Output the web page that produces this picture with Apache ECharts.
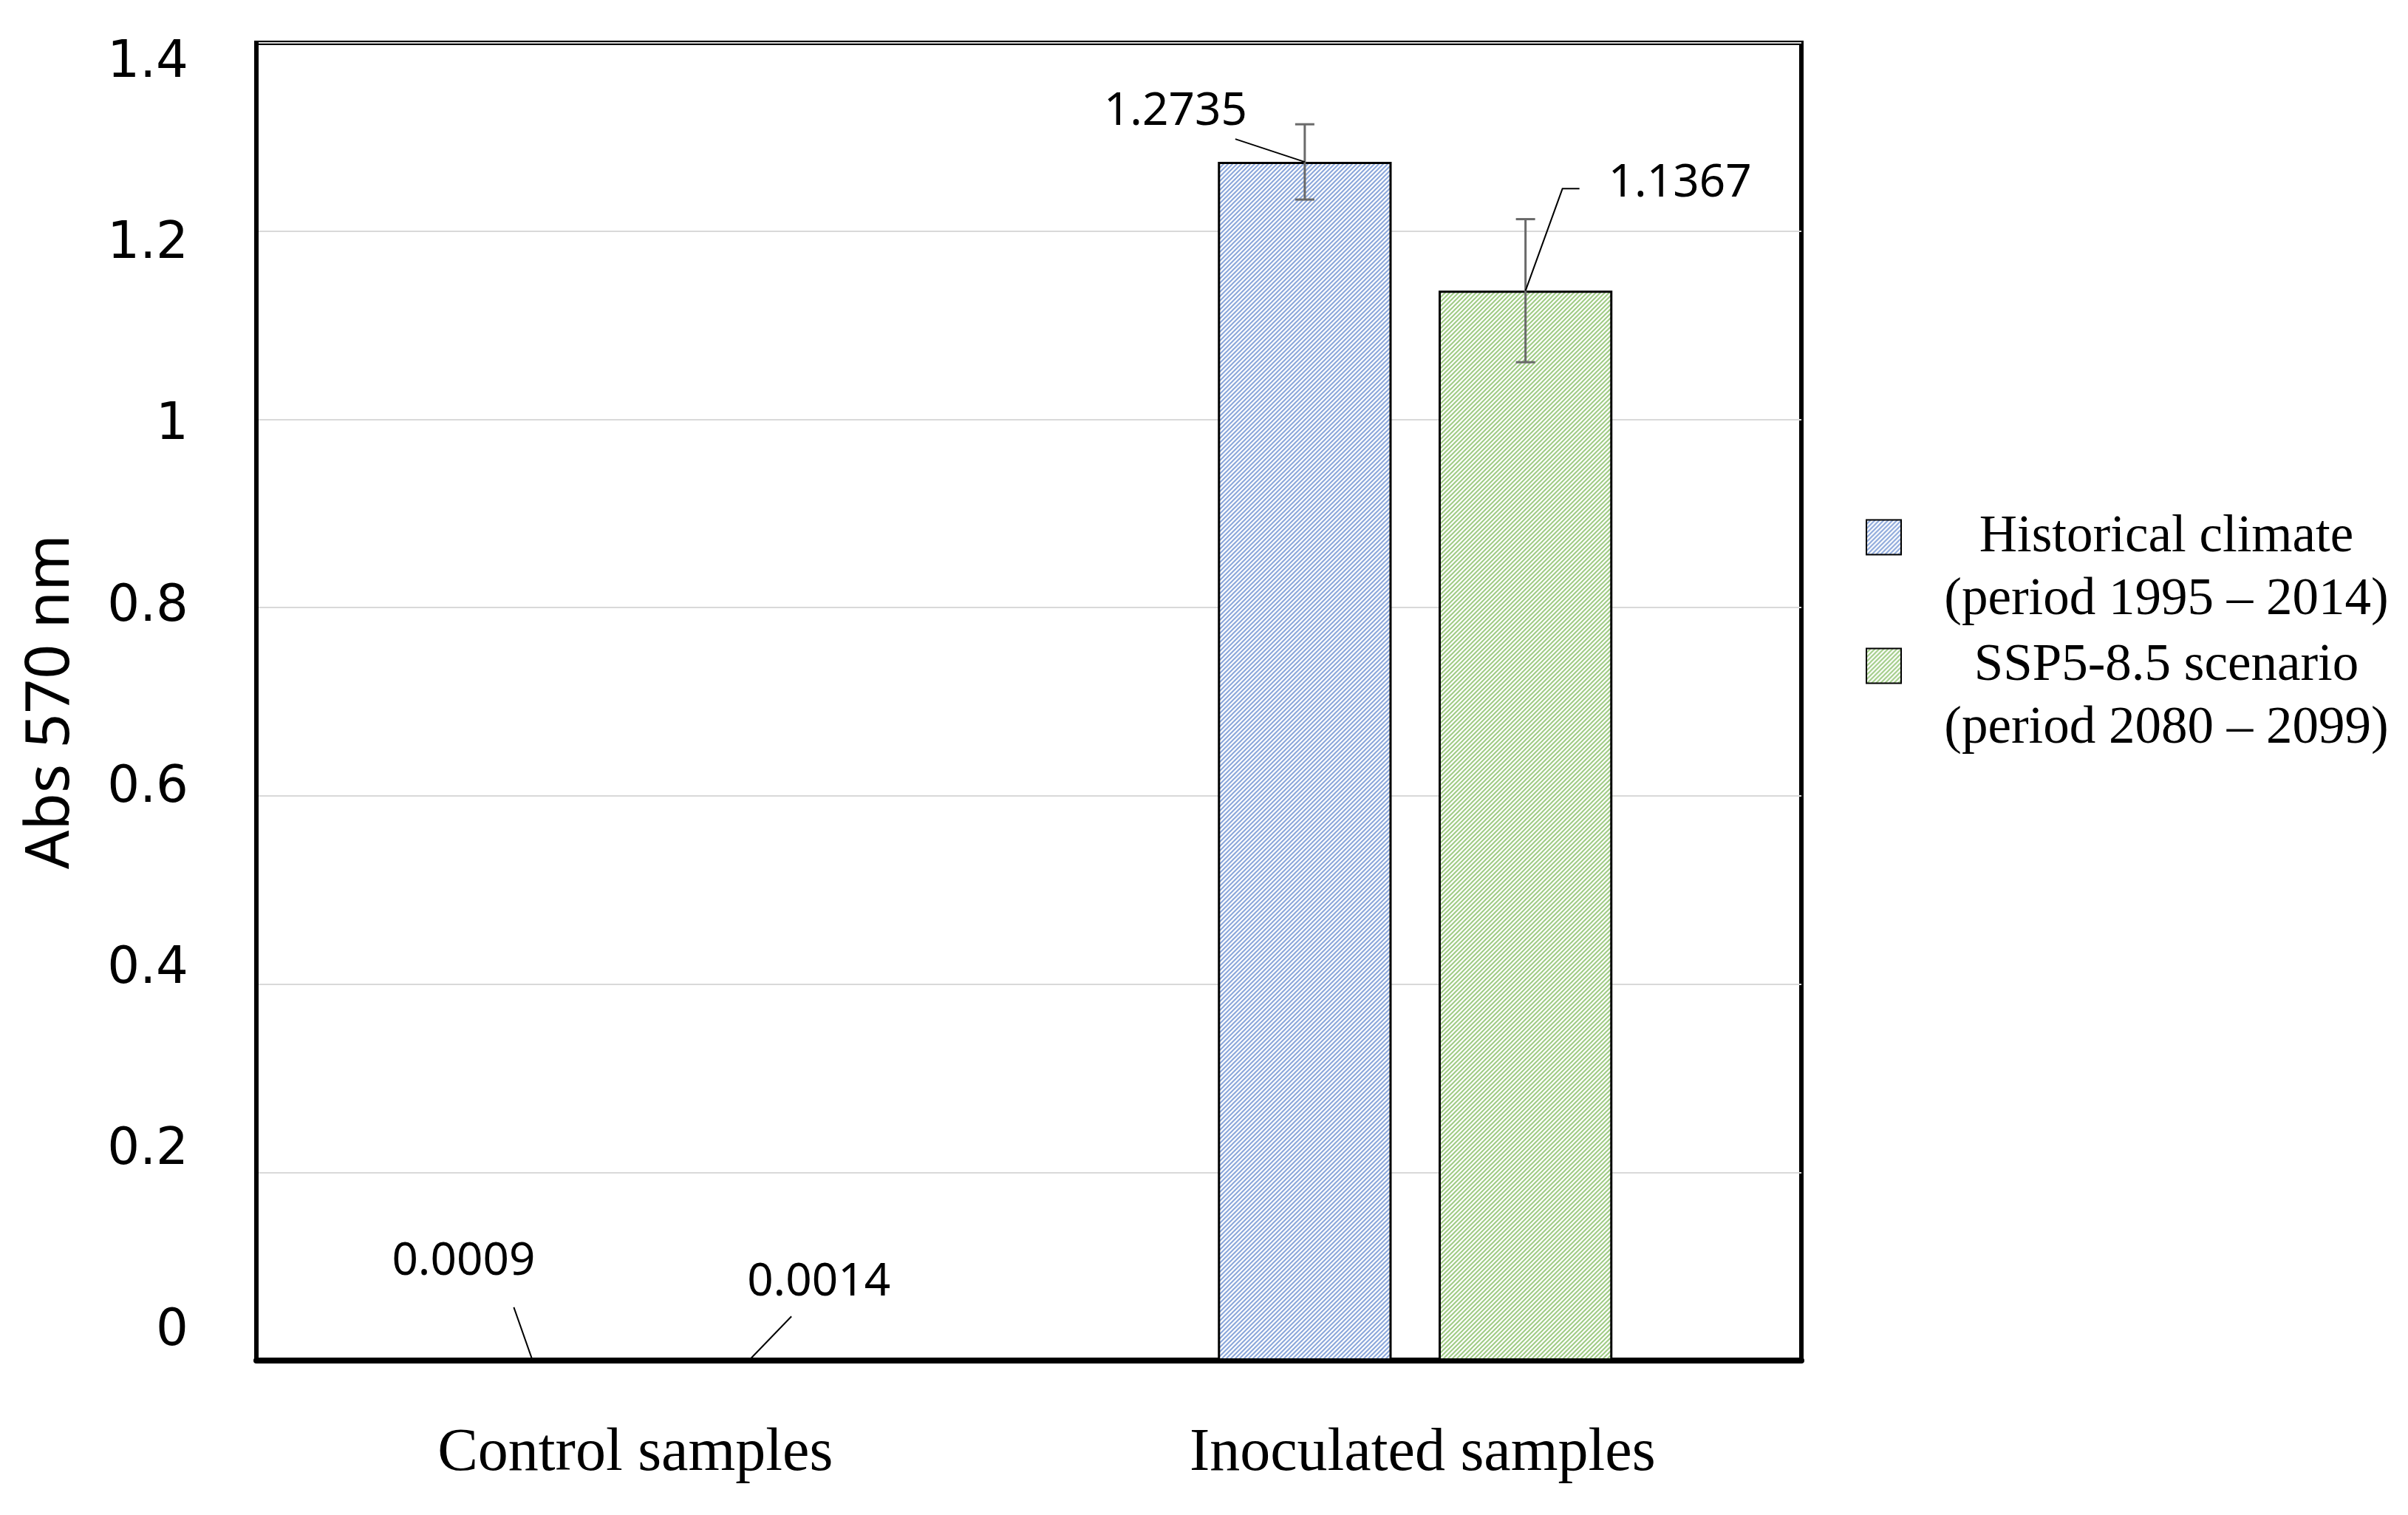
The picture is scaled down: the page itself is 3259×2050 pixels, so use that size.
<!DOCTYPE html>
<html><head><meta charset="utf-8">
<script src="https://cdn.jsdelivr.net/npm/echarts@6/dist/echarts.min.js"></script>
<style>html,body{margin:0;padding:0;background:#fff}#c{width:3259px;height:2050px}</style>
</head><body><div id="c"></div>
<script>
// ---- data ----
const categories = ['Control samples', 'Inoculated samples'];
const seriesLine1 = ['Historical climate', 'SSP5-8.5 scenario'];
const seriesLine2 = ['(period 1995 – 2014)', '(period 2080 – 2099)'];
const historicalValues = [0.0009, 1.2735];
const sspValues = [0.0014, 1.1367];
const historicalErrors = [0, 0.040];
const sspErrors = [0, 0.076];
const historicalLabels = ['0.0009', '1.2735'];
const sspLabels = ['0.0014', '1.1367'];
const yMin = 0, yMax = 1.4, yStep = 0.2;
const yAxisTitle = 'Abs 570 nm';

// ---- styling ----
const seriesNames = seriesLine1.map((s, i) => s + ' ' + seriesLine2[i]);
const hatchColors = ['#8aa6da', '#9fcb84'];
const barWidthFrac = 0.225, barGapFrac = 0.27;
const barOffsets = [-barWidthFrac * (1 + barGapFrac) / 2, barWidthFrac * (1 + barGapFrac) / 2];
// callout offsets (px) relative to bar top centre: text centre and leader line points
const callouts = [
  [ {text: [-93, -133], line: [[-25, -71], [0, 0]]},
    {text: [-175, -68], line: [[-94, -31], [0, 0]]} ],
  [ {text: [89, -104], line: [[52, -58], [-4, 0]]},
    {text: [209, -145], line: [[73, -138], [50, -138], [0, 0]]} ]
];
// tick label vertical drift in the original (px per unit away from 1) plus constant shift
const tickDrift = 47.5, tickShift = 9;
const catShift = [-10, 10];

function hatch(color) {
  const s = 6, cv = document.createElement('canvas');
  cv.width = s; cv.height = s;
  const g = cv.getContext('2d');
  g.fillStyle = '#fff'; g.fillRect(0, 0, s, s);
  g.strokeStyle = color; g.lineWidth = 2;
  g.beginPath();
  g.moveTo(-1, s + 1); g.lineTo(s + 1, -1);
  g.moveTo(-1, 1); g.lineTo(1, -1);
  g.moveTo(s - 1, s + 1); g.lineTo(s + 1, s - 1);
  g.stroke();
  return {image: cv, repeat: 'repeat'};
}

const allValues = [historicalValues, sspValues];
const allErrors = [historicalErrors, sspErrors];
const allLabels = [historicalLabels, sspLabels];

function makeRender(si) {
  return function (params, api) {
    const cat = api.value(0), v = api.value(1), e = api.value(2);
    const c = api.coord([cat, v]);
    const band = api.size([1, 0])[0];
    const x = c[0] + barOffsets[si] * band;
    const y = c[1];
    const children = [];
    if (e > 0) {
      const yt = api.coord([cat, v + e])[1], yb = api.coord([cat, v - e])[1];
      const st = {stroke: '#6a6a6a', lineWidth: 3};
      children.push({type: 'line', shape: {x1: x, y1: yt, x2: x, y2: yb}, style: st});
      children.push({type: 'line', shape: {x1: x - 13, y1: yt, x2: x + 13, y2: yt}, style: st});
      children.push({type: 'line', shape: {x1: x - 13, y1: yb, x2: x + 13, y2: yb}, style: st});
    }
    const co = callouts[si][params.dataIndex];
    children.push({type: 'polyline', shape: {points: co.line.map(p => [x + p[0], y + p[1]])},
      style: {stroke: '#000', lineWidth: 2, fill: null}});
    children.push({type: 'text', x: x + co.text[0], y: y + co.text[1],
      style: {text: allLabels[si][params.dataIndex], fontSize: 62, fontFamily: 'Noto Sans',
        fill: '#000', align: 'center', verticalAlign: 'middle'}});
    return {type: 'group', children: children};
  };
}

const legendRich = {
  s: {lineHeight: 85, fontSize: 20},
  a: {width: 708, align: 'center', lineHeight: 85, fontSize: 71, fontFamily: 'Liberation Serif', color: '#000'}
};
function legendFor(i, top) {
  return {
    data: [seriesNames[i]], left: 2525, top: top, orient: 'vertical', padding: 0,
    icon: 'rect', itemWidth: 47, itemHeight: 47, selectedMode: false,
    itemStyle: {borderColor: '#000', borderWidth: 2},
    formatter: () => '{s| }\n{a|' + seriesLine1[i] + '}\n{a|' + seriesLine2[i] + '}',
    textStyle: {rich: legendRich}
  };
}

// per-tick rich styles
const yRich = {};
const nTicks = Math.round((yMax - yMin) / yStep);
for (let k = 0; k <= nTicks; k++) {
  const v = yMin + k * yStep;
  const d = (v - 1) * tickDrift + tickShift;
  yRich['t' + k] = {
    fontFamily: 'DejaVu Sans', fontSize: 69, color: '#000',
    padding: d > 0 ? [2 * d, 0, 0, 0] : [0, 0, -2 * d, 0]
  };
}
const xRich = {};
categories.forEach((c, i) => {
  const s = catShift[i];
  xRich['c' + i] = {
    fontFamily: 'Liberation Serif', fontSize: 82, color: '#000',
    padding: s < 0 ? [0, -2 * s, 0, 0] : [0, 0, 0, 2 * s]
  };
});

const chart = echarts.init(document.getElementById('c'));
const series = [];
for (let i = 0; i < 2; i++) {
  series.push({
    type: 'bar', name: seriesNames[i], data: allValues[i],
    barWidth: (barWidthFrac * 100) + '%', barGap: (barGapFrac * 100) + '%',
    itemStyle: {color: hatch(hatchColors[i]), borderColor: '#000', borderWidth: 3}
  });
}
for (let i = 0; i < 2; i++) {
  series.push({
    type: 'custom', name: 'callout' + i, silent: true, z: 10,
    renderItem: makeRender(i),
    encode: {x: 0, y: 1},
    data: allValues[i].map((v, k) => [k, v, allErrors[i][k]])
  });
}

chart.setOption({
  animation: false,
  backgroundColor: '#fff',
  grid: {left: 347, right: 821, top: 58, bottom: 209, show: true, borderColor: '#000', borderWidth: 6},
  legend: [legendFor(0, 632), legendFor(1, 806)],
  xAxis: {
    type: 'category', data: categories,
    axisTick: {show: false},
    axisLine: {lineStyle: {color: '#000', width: 8}},
    axisLabel: {
      margin: 85,
      formatter: (value, index) => '{c' + index + '|' + value + '}',
      rich: xRich
    }
  },
  yAxis: {
    type: 'value', min: yMin, max: yMax, interval: yStep,
    axisLine: {show: true, lineStyle: {color: '#000', width: 6}},
    axisTick: {show: false},
    splitLine: {lineStyle: {color: '#d9d9d9', width: 2}},
    axisLabel: {
      margin: 92,
      formatter: (value) => '{t' + Math.round((value - yMin) / yStep) + '|' + value + '}',
      rich: yRich
    },
    name: yAxisTitle, nameLocation: 'middle', nameGap: 236,
    nameTextStyle: {fontFamily: 'Noto Sans', fontSize: 82, color: '#000'}
  },
  series: series
});
</script></body></html>
